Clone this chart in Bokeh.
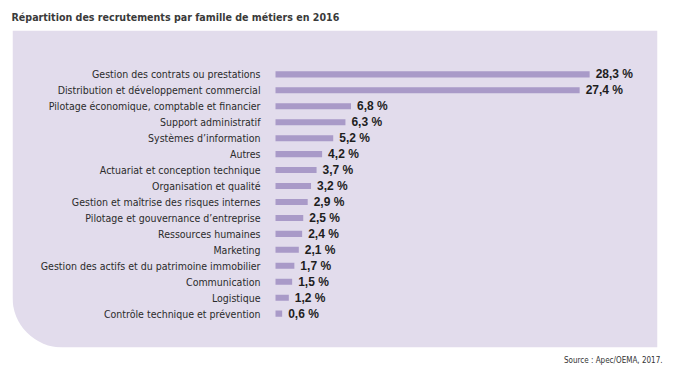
from bokeh.plotting import figure
from bokeh.models import ColumnDataSource, BoxAnnotation, Range1d, Title
from bokeh.core.properties import value
from bokeh.embed import file_html
from bokeh.resources import INLINE

title_text = "Répartition des recrutements par famille de métiers en 2016"
source_text = "Source : Apec/OEMA, 2017."

categories = [
    "Gestion des contrats ou prestations",
    "Distribution et développement commercial",
    "Pilotage économique, comptable et financier",
    "Support administratif",
    "Systèmes d’information",
    "Autres",
    "Actuariat et conception technique",
    "Organisation et qualité",
    "Gestion et maîtrise des risques internes",
    "Pilotage et gouvernance d’entreprise",
    "Ressources humaines",
    "Marketing",
    "Gestion des actifs et du patrimoine immobilier",
    "Communication",
    "Logistique",
    "Contrôle technique et prévention",
]
values = [28.3, 27.4, 6.8, 6.3, 5.2, 4.2, 3.7, 3.2, 2.9, 2.5, 2.4, 2.1, 1.7, 1.5, 1.2, 0.6]

n = len(categories)
ypos = [n - i for i in range(n)]
value_labels = [f"{v:.1f}".replace(".", ",") + " %" for v in values]

src = ColumnDataSource(dict(cat=categories, val=values, y=ypos, lab=value_labels))

FONT = "'DejaVu Sans Condensed', Roboto"

W, H = 667, 372
scale = 11.1  # px per percentage point
x_start = -263 / scale
x_end = x_start + 645 / scale
y_start = 1 - 34 / 16
y_end = n + 44 / 16

p = figure(width=W, height=H, output_backend="svg", toolbar_location=None,
           x_range=Range1d(x_start, x_end), y_range=Range1d(y_start, y_end),
           min_border_left=12, min_border_right=10, min_border_top=29, min_border_bottom=25,
           background_fill_color="white", border_fill_color="white", title=None)
p.outline_line_color = None
p.xaxis.visible = False
p.yaxis.visible = False
p.xgrid.visible = False
p.ygrid.visible = False

panel = BoxAnnotation(left=x_start, right=x_end, bottom=y_start, top=y_end,
                      fill_color="#e2dcec", fill_alpha=1.0, line_color=None,
                      level="underlay",
                      border_radius=dict(top_left=0, top_right=0, bottom_right=0, bottom_left=50))
p.add_layout(panel)

p.hbar(y="y", right="val", left=0, height=0.38, source=src,
       fill_color="#a99ac8", line_color=None)

p.text(x=0, y="y", text="cat", source=src, x_offset=-15,
       text_align="right", text_baseline="middle",
       text_font=value(FONT), text_font_size="10.5px",
       text_color="#2b2b2b")

p.text(x="val", y="y", text="lab", source=src, x_offset=6,
       text_align="left", text_baseline="middle",
       text_font=value("Liberation Sans"), text_font_size="12px",
       text_font_style="bold", text_color="#1e1e1e")

p.add_layout(Title(text=title_text, align="left", offset=-1, standoff=16,
                   text_font=FONT, text_font_size="10.6px",
                   text_font_style="bold", text_color="#3a3a3a"), "above")
p.add_layout(Title(text=source_text, align="right", offset=-5, standoff=13,
                   text_font=FONT, text_font_size="8px",
                   text_font_style="normal", text_color="#333333"), "below")

open("out.html", "w").write(file_html(p, INLINE))
